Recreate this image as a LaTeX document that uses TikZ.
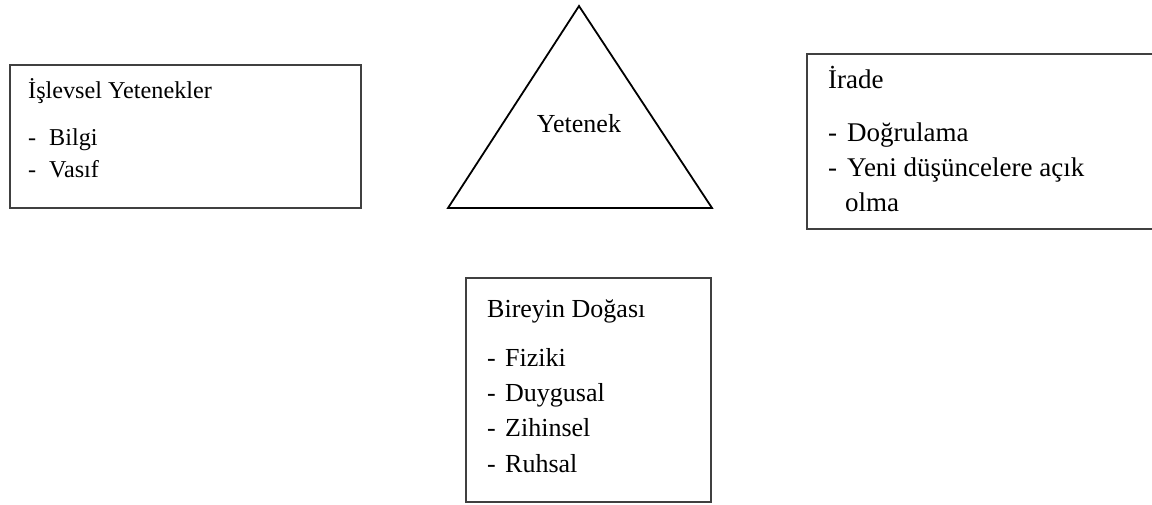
\documentclass[tikz,border=0pt]{standalone}
\usepackage{fontspec}
\setmainfont{Liberation Serif}
\newcommand\yazikucuk{\fontsize{24.2}{32}\selectfont}
\newcommand\yazi{\fontsize{26}{34}\selectfont}
\newcommand\yazibuyuk{\fontsize{27}{35}\selectfont}
\tikzset{
  kutu/.style={draw=black!75, line width=1.4pt},
  ucgen/.style={draw=black, line width=1.8pt, line join=miter},
  satir/.style={anchor=base west, inner sep=0pt, font=\yazi},
}
\begin{document}
\begin{tikzpicture}[x=1pt, y=-1pt]
  \useasboundingbox (0,0) rectangle (1152,504);
  \clip (0,0) rectangle (1152,504);

  \draw[kutu] (10,65) rectangle (361,208);
  \node[satir, font=\yazikucuk] (islev) at (28,98) {İşlevsel Yetenekler};
  \node[satir, font=\yazikucuk] (islevt1) at (28,145) {-};
  \node[satir, font=\yazikucuk] (bilgi) at (49,145) {Bilgi};
  \node[satir, font=\yazikucuk] (islevt2) at (28,177) {-};
  \node[satir, font=\yazikucuk] (vasif) at (49,177) {Vasıf};

  \draw[ucgen] (579,6) -- (712,208) -- (448,208) -- cycle;
  \node[font=\yazi, inner sep=0pt, anchor=base] (yetenek) at (579,132) {Yetenek};

  \draw[kutu] (807,54) rectangle (1170,229);
  \node[satir, font=\yazibuyuk] (irade) at (828,88) {İrade};
  \node[satir, font=\yazibuyuk] (iradet1) at (828,141) {-};
  \node[satir, font=\yazibuyuk] (dogrulama) at (847,141) {Doğrulama};
  \node[satir, font=\yazibuyuk] (iradet2) at (828,176) {-};
  \node[satir, font=\yazibuyuk] (yeni) at (847,176) {Yeni düşüncelere açık};
  \node[satir, font=\yazibuyuk] (olma) at (845,211) {olma};

  \draw[kutu] (466,278) rectangle (711,502);
  \node[satir] (birey) at (487,317) {Bireyin Doğası};
  \node[satir] (bireyt1) at (487,366) {-};
  \node[satir] (fiziki) at (505,366) {Fiziki};
  \node[satir] (bireyt2) at (487,401) {-};
  \node[satir] (duygusal) at (505,401) {Duygusal};
  \node[satir] (bireyt3) at (487,436) {-};
  \node[satir] (zihinsel) at (505,436) {Zihinsel};
  \node[satir] (bireyt4) at (487,472) {-};
  \node[satir] (ruhsal) at (505,472) {Ruhsal};
\end{tikzpicture}
\end{document}
